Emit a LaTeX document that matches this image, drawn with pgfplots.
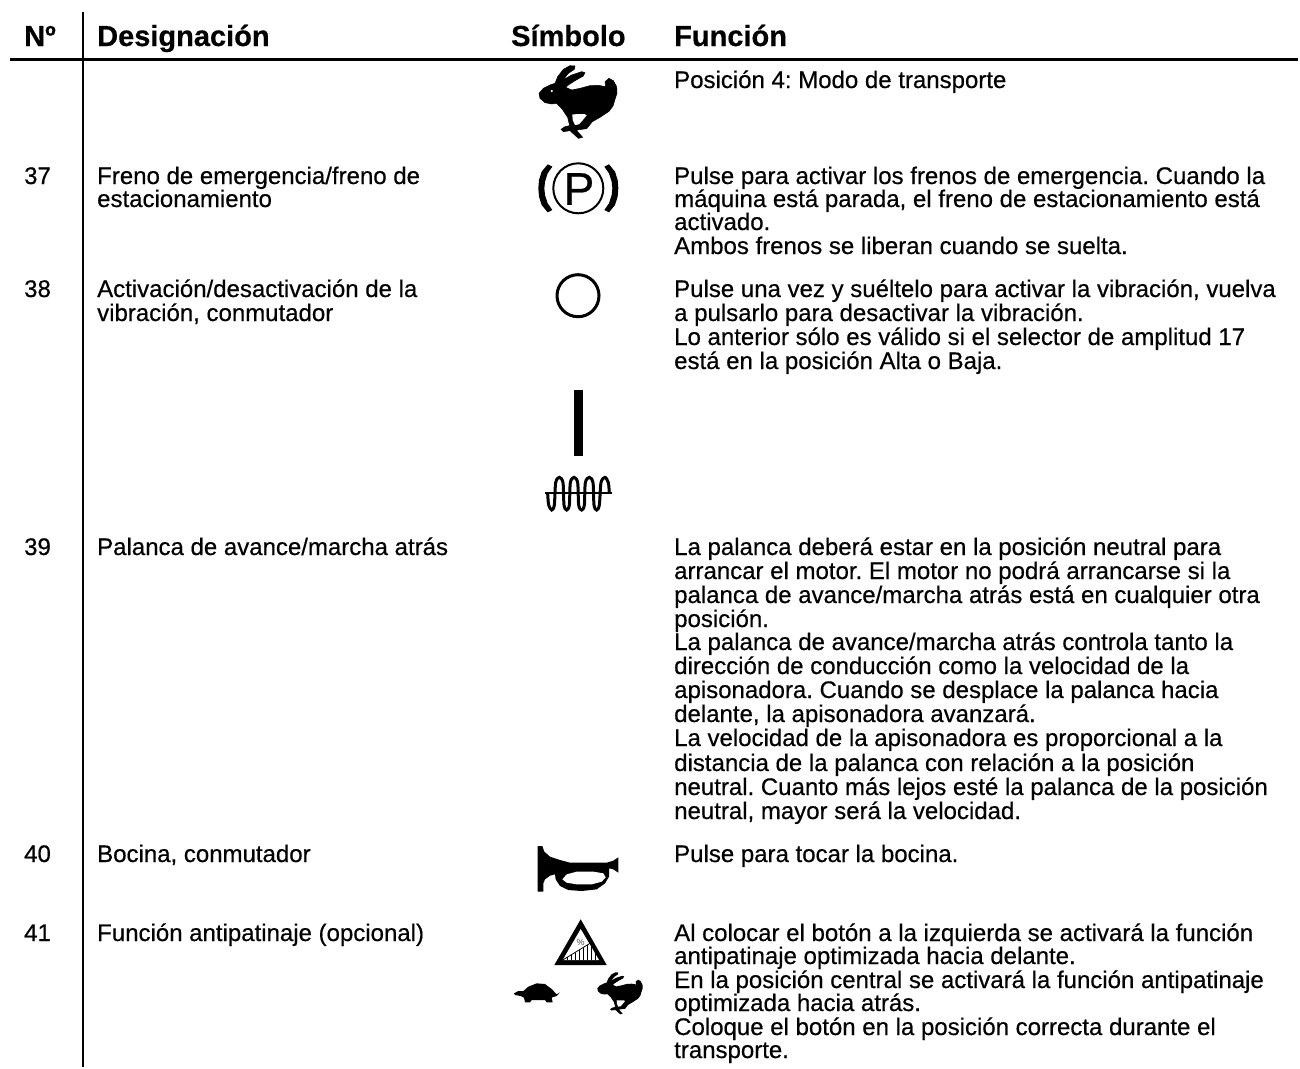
\documentclass[border=0pt]{standalone}
\usepackage{pgfplots}
\usepackage{pgfplotstable}
\usepackage{fontspec}
\pgfplotsset{compat=1.18}
\setmainfont{Liberation Sans}
\newfontfamily\bodyf[FakeBold=0.5]{Liberation Sans}
\newfontfamily\headf[BoldFeatures={FakeBold=0.5}]{Liberation Sans}
\frenchspacing
\newcommand{\T}[3]{\node[anchor=base west,inner sep=0pt,font=\fontsize{24}{26}\bodyf\frenchspacing] at (axis cs:#1,#2) {#3};}
\newcommand{\Hd}[2]{\node[anchor=base west,inner sep=0pt,font=\fontsize{29}{31}\headf\bfseries] at (axis cs:#1,46) {#2};}
\pgfplotstableread{
x y
12 100
25 85
45 75
60 70
68 50
85 28
105 17
120 18
118 28
100 40
88 55
80 62
110 45
140 35
150 38
145 48
120 62
100 75
92 82
110 90
135 85
165 77
190 76
212 80
210 65
222 55
235 62
245 80
246 100
240 118
234 138
222 154
195 172
172 185
155 206
125 210
128 215
143 232
130 235
105 212
85 215
78 208
90 200
104 197
98 172
82 148
65 130
50 132
30 128
15 115
}\rabbit
\pgfplotstableread{
x y
112 163
148 162
155 166
142 182
132 193
120 195
113 180
}\rabbithole
\pgfplotstableread{
x y
38 28
20 50
12 75
10 100
12 125
20 150
38 172
52 165
38 145
30 120
28 100
30 80
38 55
52 35
}\brake
\pgfplotstableread{
x y
143 340
146 375
155 390
163 375
167 308
178 292
189 308
192 375
200 390
208 375
211 308
222 292
233 308
236 375
245 390
253 375
256 308
268 292
279 308
282 375
290 390
298 375
303 308
315 292
325 308
328 340
}\coil
\pgfplotstableread{
x y
8 18
22 18
28 35
45 50
75 60
105 68
215 68
235 62
250 52
250 98
235 88
222 85
222 110
210 130
185 148
140 153
100 150
75 138
62 118
60 103
45 107
30 118
25 130
25 155
8 155
}\horn
\pgfplotstableread{
x y
82 118
95 103
125 95
175 95
205 100
212 112
200 125
170 133
125 133
95 128
}\hornhole
\pgfplotstableread{
x y
12 235
25 228
40 228
55 215
80 205
105 207
125 222
140 238
150 232
140 243
125 248
128 262
110 262
105 255
65 255
60 262
45 262
42 248
32 243
15 240
}\turtle
\begin{document}
\begin{tikzpicture}
\begin{axis}[scale only axis,width=1300pt,height=1068pt,xmin=0,xmax=1300,ymin=0,ymax=1068,y dir=reverse,hide axis,clip=false]
\path (axis cs:0,0) rectangle (axis cs:1300,1068);
% rules
\addplot[black,line width=2.6pt,forget plot] coordinates {(10,59.5) (1298,59.5)};
\addplot[black,line width=2.6pt,forget plot] coordinates {(83,12) (83,1067)};
% header
\Hd{24}{Nº}
\Hd{97}{Designación}
\Hd{511}{Símbolo}
\Hd{674}{Función}
% numbers
\T{24}{184}{37}
\T{24}{297}{38}
\T{24}{555}{39}
\T{24}{862}{40}
\T{24}{941}{41}
% designation
\T{97}{184}{Freno de emergencia/freno de}
\T{97}{207}{estacionamiento}
\T{97}{297}{Activación/desactivación de la}
\T{97}{321}{vibración, conmutador}
\T{97}{555}{Palanca de avance/marcha atrás}
\T{97}{862}{Bocina, conmutador}
\T{97}{941}{Función antipatinaje (opcional)}
% function
\T{674}{88}{Posición 4: Modo de transporte}
\T{674}{184}{Pulse para activar los frenos de emergencia. Cuando la}
\T{674}{207}{máquina está parada, el freno de estacionamiento está}
\T{674}{230}{activado.}
\T{674}{254}{Ambos frenos se liberan cuando se suelta.}
\T{674}{297}{Pulse una vez y suéltelo para activar la vibración, vuelva}
\T{674}{321}{a pulsarlo para desactivar la vibración.}
\T{674}{345}{Lo anterior sólo es válido si el selector de amplitud 17}
\T{674}{369}{está en la posición Alta o Baja.}
\T{674}{555}{La palanca deberá estar en la posición neutral para}
\T{674}{579}{arrancar el motor. El motor no podrá arrancarse si la}
\T{674}{603}{palanca de avance/marcha atrás está en cualquier otra}
\T{674}{627}{posición.}
\T{674}{650}{La palanca de avance/marcha atrás controla tanto la}
\T{674}{674}{dirección de conducción como la velocidad de la}
\T{674}{698}{apisonadora. Cuando se desplace la palanca hacia}
\T{674}{722}{delante, la apisonadora avanzará.}
\T{674}{746}{La velocidad de la apisonadora es proporcional a la}
\T{674}{771}{distancia de la palanca con relación a la posición}
\T{674}{795}{neutral. Cuanto más lejos esté la palanca de la posición}
\T{674}{819}{neutral, mayor será la velocidad.}
\T{674}{862}{Pulse para tocar la bocina.}
\T{674}{941}{Al colocar el botón a la izquierda se activará la función}
\T{674}{964}{antipatinaje optimizada hacia delante.}
\T{674}{988}{En la posición central se activará la función antipatinaje}
\T{674}{1011}{optimizada hacia atrás.}
\T{674}{1035}{Coloque el botón en la posición correcta durante el}
\T{674}{1058}{transporte.}
% big rabbit
\addplot[fill=black,draw=black,line width=0.5pt,forget plot] table[x expr=535+\thisrow{x}/3,y expr=60+\thisrow{y}/3] {\rabbit} -- cycle;
\addplot[fill=white,draw=none,forget plot] table[x expr=535+\thisrow{x}/3,y expr=60+\thisrow{y}/3] {\rabbithole} -- cycle;
\addplot[only marks,mark=*,mark size=0.9pt,white,draw=none,forget plot] coordinates {(551.7,91)};
% parking brake
\draw[black,line width=2pt] (axis cs:578.3,188.3) circle [radius=25];
\node[font=\fontsize{46}{48}\bodyf,inner sep=0pt] at (axis cs:579,189) {P};
\addplot[fill=black,draw=none,forget plot] table[x expr=535+\thisrow{x}/3,y expr=155+\thisrow{y}/3] {\brake} -- cycle;
\addplot[fill=black,draw=none,forget plot] table[x expr=535+(260-\thisrow{x})/3,y expr=155+\thisrow{y}/3] {\brake} -- cycle;
% vibration off / on
\draw[black,line width=3pt] (axis cs:578,295.7) circle [radius=21];
\addplot[fill=black,draw=none,forget plot] coordinates {(574,390) (582.7,390) (582.7,456) (574,456)} -- cycle;
\addplot[black,line width=2.2pt,forget plot] coordinates {(545,493.3) (611.7,493.3)};
\addplot[black,line width=3pt,smooth,forget plot] table[x expr=500+\thisrow{x}/3,y expr=380+\thisrow{y}/3] {\coil};
% horn
\addplot[fill=black,draw=none,forget plot] table[x expr=535+\thisrow{x}/3,y expr=840+\thisrow{y}/3] {\horn} -- cycle;
\addplot[fill=white,draw=none,forget plot] table[x expr=535+\thisrow{x}/3,y expr=840+\thisrow{y}/3] {\hornhole} -- cycle;
% triangle
\addplot[fill=black,draw=none,forget plot] coordinates {(580.7,919.3) (554.3,965) (606.7,965)} -- cycle;
\addplot[fill=white,draw=none,forget plot] coordinates {(580.7,929) (562.7,960) (599,960)} -- cycle;
\addplot[black,line width=0.8pt,forget plot] coordinates {(562.7,960) (590,943.3)};
\addplot[black,line width=0.8pt,forget plot] coordinates {(567,957.4) (567,960)};
\addplot[black,line width=0.8pt,forget plot] coordinates {(571,955) (571,960)};
\addplot[black,line width=0.8pt,forget plot] coordinates {(575,952.5) (575,960)};
\addplot[black,line width=0.8pt,forget plot] coordinates {(579,950) (579,960)};
\addplot[black,line width=0.8pt,forget plot] coordinates {(583,947.6) (583,960)};
\addplot[black,line width=0.8pt,forget plot] coordinates {(587,945) (587,960)};
\addplot[black,line width=0.8pt,forget plot] coordinates {(591,946.4) (591,960)};
\addplot[black,line width=0.8pt,forget plot] coordinates {(595,953) (595,960)};
\node[font=\fontsize{9}{10}\selectfont,text=black!70,inner sep=0pt] at (axis cs:580.7,942) {\%};
% turtle, small rabbit
\addplot[fill=black,draw=none,forget plot] table[x expr=510+\thisrow{x}/3,y expr=915+\thisrow{y}/3] {\turtle} -- cycle;
\addplot[fill=black,draw=none,forget plot] table[x expr=510+(262+(\thisrow{x}-12)*0.581)/3,y expr=915+(172+(\thisrow{y}-17)*0.578)/3] {\rabbit} -- cycle;
\addplot[fill=white,draw=none,forget plot] table[x expr=510+(262+(\thisrow{x}-12)*0.581)/3,y expr=915+(172+(\thisrow{y}-17)*0.578)/3] {\rabbithole} -- cycle;
\end{axis}
\end{tikzpicture}
\end{document}
